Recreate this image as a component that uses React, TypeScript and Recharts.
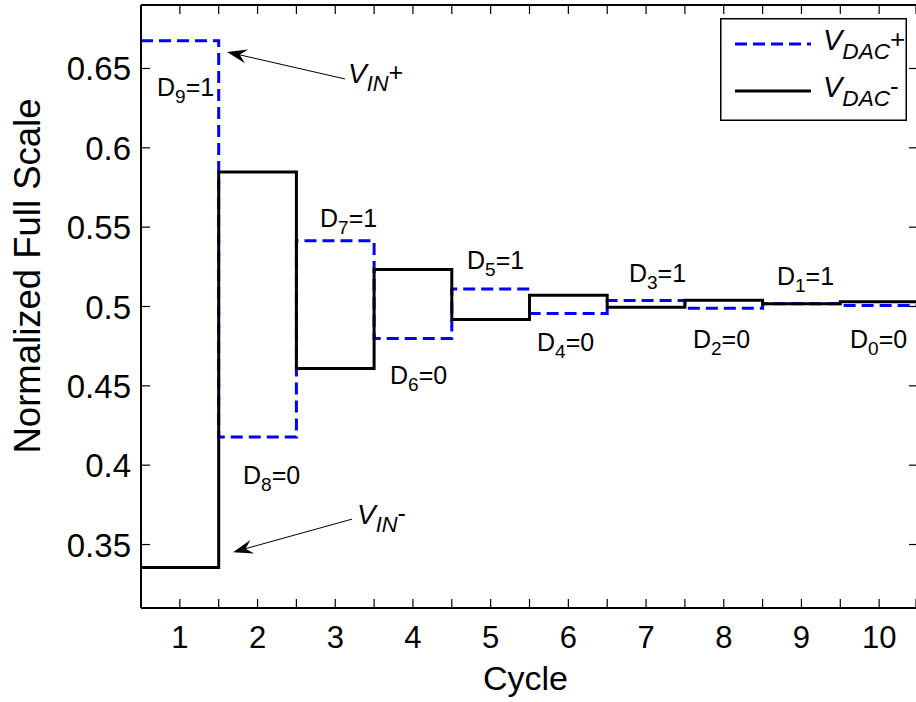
import { Line, LineChart, ReferenceDot, ReferenceLine, XAxis, YAxis } from 'recharts'

const FONT = '"Liberation Sans", Arial, Helvetica, sans-serif'

const cycles = [1, 2, 3, 4, 5, 6, 7, 8, 9, 10]
const vdacPlus = [0.6675, 0.4178, 0.5415, 0.4799, 0.5111, 0.4956, 0.5038, 0.4989, 0.5017, 0.5006]
const vdacMinus = [0.3356, 0.5847, 0.461, 0.5233, 0.4918, 0.5071, 0.4996, 0.504, 0.5017, 0.503]

const xTicks = [0.5, 1, 1.5, 2, 2.5, 3, 3.5, 4, 4.5, 5, 5.5, 6, 6.5, 7, 7.5, 8, 8.5, 9, 9.5, 10, 10.5]
const yTicks = [0.35, 0.4, 0.45, 0.5, 0.55, 0.6, 0.65]
const xMin = 0.5
const xMax = 10.5
const yMin = 0.31
const yMax = 0.69

// decision bits written next to each step
const bitIndex = [9, 8, 7, 6, 5, 4, 3, 2, 1, 0]
const bitValue = [1, 0, 1, 0, 1, 0, 1, 0, 1, 0]
const bitLabelX = [0.706, 1.813, 2.804, 3.705, 4.696, 5.597, 6.78, 7.604, 8.685, 9.625]
const bitLabelY = [0.6327, 0.388, 0.5503, 0.451, 0.5239, 0.4719, 0.5157, 0.4736, 0.5138, 0.4736]

// stairs: each cycle spans [c - 0.5, c + 0.5]
const last = cycles.length - 1
const stepData = [
  ...cycles.map((c, i) => ({ x: c - 0.5, vp: vdacPlus[i], vn: vdacMinus[i] })),
  { x: cycles[last] + 0.5, vp: vdacPlus[last], vn: vdacMinus[last] },
]

// layout
const W = 930
const H = 702
const MARGIN = { top: 5, right: 12, bottom: 0, left: 0 }
const X_AXIS_H = 94
const Y_AXIS_W = 141
const PLOT_H = H - MARGIN.top - MARGIN.bottom - X_AXIS_H
const PLOT_W = W - MARGIN.left - MARGIN.right - Y_AXIS_W

// bottom ticks also draw the mirrored inward mark on the top frame
const BottomTick = (props: any) => {
  const { x, y, payload } = props
  const v = payload.value
  const top = y - PLOT_H
  return (
    <g>
      <line x1={x} x2={x} y1={y} y2={y - 9} stroke="#000" strokeWidth={1.2} />
      <line x1={x} x2={x} y1={top} y2={top + 9} stroke="#000" strokeWidth={1.2} />
      {Number.isInteger(v) && (
        <text x={x} y={y + 40} textAnchor="middle" fontSize={31} fontFamily={FONT} fill="#000">
          {v}
        </text>
      )}
    </g>
  )
}

// left ticks also draw the mirrored inward mark on the right frame
const LeftTick = (props: any) => {
  const { x, y, payload } = props
  const right = x + PLOT_W
  return (
    <g>
      <line x1={x} x2={x + 9} y1={y} y2={y} stroke="#000" strokeWidth={1.2} />
      <line x1={right} x2={right - 9} y1={y} y2={y} stroke="#000" strokeWidth={1.2} />
      <text x={x - 10} y={y + 12} textAnchor="end" fontSize={33} fontFamily={FONT} fill="#000">
        {payload.value}
      </text>
    </g>
  )
}

const Arrow = (props: any) => {
  const { x1, y1, x2, y2 } = props
  const a = Math.atan2(y2 - y1, x2 - x1)
  const c = Math.cos(a)
  const s = Math.sin(a)
  const L = 20
  const hw = 7
  const bx = x2 - L * c
  const by = y2 - L * s
  const nx = x2 - L * 0.65 * c
  const ny = y2 - L * 0.65 * s
  const pts = [
    [x2, y2],
    [bx - hw * s, by + hw * c],
    [nx, ny],
    [bx + hw * s, by - hw * c],
  ]
  return (
    <g>
      <line x1={x1} y1={y1} x2={nx} y2={ny} stroke="#000" strokeWidth={1} />
      <polygon points={pts.map((p) => p.join(',')).join(' ')} fill="#000" />
    </g>
  )
}

const VLabel = ({ x, y, sub, sign, size }: any) => (
  <text x={x} y={y} fontSize={size} fontFamily={FONT} fill="#000">
    <tspan fontStyle="italic">V</tspan>
    <tspan fontStyle="italic" fontSize={size * 0.78} dy={size * 0.3}>
      {sub}
    </tspan>
    <tspan fontSize={size * 0.9} dy={-size * 0.38}>
      {sign}
    </tspan>
  </text>
)

const series = [
  { key: 'vp', sub: 'DAC', sign: '+', color: '#0000ff', dash: '12 6' },
  { key: 'vn', sub: 'DAC', sign: '-', color: '#000000', dash: undefined },
]

const LegendBox = () => (
  <svg width={187} height={103} style={{ display: 'block' }}>
    <rect x={0.75} y={0.75} width={185.5} height={101.5} fill="#fff" stroke="#000" strokeWidth={1.5} />
    {series.map((s, i) => {
      const ly = 26 + i * 47
      return (
        <g key={s.key}>
          <line x1={15} x2={91} y1={ly} y2={ly} stroke={s.color} strokeWidth={3} strokeDasharray={s.dash} />
          <VLabel x={103} y={ly + 6} sub={s.sub} sign={s.sign} size={29} />
        </g>
      )
    })}
  </svg>
)

const BitLabel = (props: any) => {
  const { cx, cy, idx, val } = props
  return (
    <text x={cx} y={cy} fontSize={25} fontFamily={FONT} fill="#000">
      <tspan>D</tspan>
      <tspan fontSize={19} dy={7}>
        {idx}
      </tspan>
      <tspan dy={-7}>={val}</tspan>
    </text>
  )
}

const InLabel = (props: any) => {
  const { cx, cy, sign } = props
  return <VLabel x={cx} y={cy} sub="IN" sign={sign} size={28} />
}

export default function App() {
  return (
    <div style={{ position: 'absolute', left: 0, top: 0, width: 916, height: 702, overflow: 'hidden', background: '#fff' }}>
      <LineChart width={W} height={H} data={stepData} margin={MARGIN}>
        <XAxis
          dataKey="x"
          type="number"
          domain={[xMin, xMax]}
          ticks={xTicks}
          allowDataOverflow
          height={X_AXIS_H}
          stroke="#000"
          strokeWidth={2}
          tickSize={0}
          tickMargin={0}
          tickLine={false}
          tick={<BottomTick />}
          label={{ value: 'Cycle', position: 'insideBottom', offset: 12, dx: -4, fontSize: 34, fill: '#000', fontFamily: FONT }}
        />
        <YAxis
          type="number"
          domain={[yMin, yMax]}
          ticks={yTicks}
          allowDataOverflow
          width={Y_AXIS_W}
          stroke="#000"
          strokeWidth={2}
          tickSize={0}
          tickMargin={0}
          tickLine={false}
          tick={<LeftTick />}
          label={{
            content: () => (
              <text
                x={40}
                y={276}
                transform="rotate(-90 40 276)"
                textAnchor="middle"
                fontSize={36.5}
                fontFamily={FONT}
                fill="#000"
              >
                Normalized Full Scale
              </text>
            ),
          }}
        />
        <Line
          dataKey="vp"
          name="VDAC+"
          type="stepAfter"
          stroke="#0000ff"
          strokeWidth={3}
          strokeDasharray="12 6"
          dot={false}
          activeDot={false}
          isAnimationActive={false}
        />
        <Line
          dataKey="vn"
          name="VDAC-"
          type="stepAfter"
          stroke="#000000"
          strokeWidth={3}
          dot={false}
          activeDot={false}
          isAnimationActive={false}
        />
        {/* top frame */}
        <ReferenceLine
          segment={[
            { x: xMin, y: yMax },
            { x: xMax, y: yMax },
          ]}
          stroke="#000"
          strokeWidth={2}
          ifOverflow="visible"
        />
        {bitIndex.map((b, i) => (
          <ReferenceDot
            key={b}
            x={bitLabelX[i]}
            y={bitLabelY[i]}
            r={0}
            ifOverflow="visible"
            shape={(p: any) => <BitLabel {...p} idx={b} val={bitValue[i]} />}
          />
        ))}
        <ReferenceLine
          segment={[
            { x: 3.125, y: 0.6434 },
            { x: 1.607, y: 0.6604 },
          ]}
          ifOverflow="visible"
          shape={(p: any) => <Arrow {...p} />}
        />
        <ReferenceLine
          segment={[
            { x: 3.216, y: 0.366 },
            { x: 1.684, y: 0.3452 },
          ]}
          ifOverflow="visible"
          shape={(p: any) => <Arrow {...p} />}
        />
        <ReferenceDot x={3.164} y={0.641} r={0} ifOverflow="visible" shape={(p: any) => <InLabel {...p} sign="+" />} />
        <ReferenceDot x={3.28} y={0.3629} r={0} ifOverflow="visible" shape={(p: any) => <InLabel {...p} sign="-" />} />
      </LineChart>
      <div style={{ position: 'absolute', left: 720, top: 18 }}>
        <LegendBox />
      </div>
    </div>
  )
}
